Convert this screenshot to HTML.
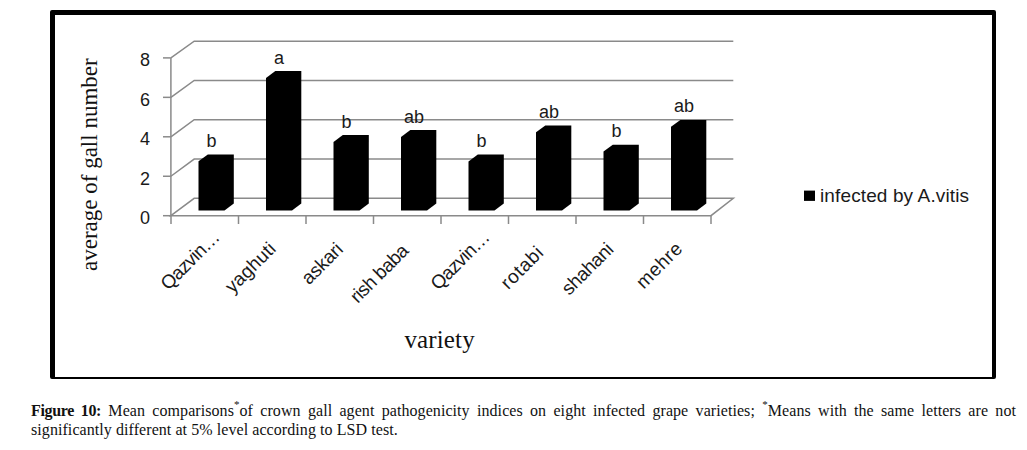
<!DOCTYPE html>
<html><head><meta charset="utf-8"><style>
html,body{margin:0;padding:0;background:#fff;}
body{width:1027px;height:450px;position:relative;overflow:hidden;}
.box{position:absolute;left:50px;top:10px;width:937px;height:362px;border-style:solid;border-color:#000;border-width:5px 4px 2px 5px;border-radius:2px;}
svg{position:absolute;left:0;top:0;}
.lb{font-family:"Liberation Sans",sans-serif;font-size:18px;fill:#1a1a1a;}
.ser{font-family:"Liberation Serif",serif;fill:#111;}
.cap{position:absolute;left:31px;top:400.8px;width:985px;font-family:"Liberation Serif",serif;font-size:16px;line-height:19px;color:#111;text-align:justify;letter-spacing:0.07px;}
.cap b{font-weight:bold;letter-spacing:-0.35px;}
.cap sup{font-size:11px;line-height:0;vertical-align:8px;}
</style></head><body>
<div class="box"></div>
<svg width="1027" height="450" viewBox="0 0 1027 450">
<polyline points="170.9,176.25 194.2,159.03 733.3,159.03" fill="none" stroke="#8a8a8a" stroke-width="1.5"/>
<line x1="163" y1="176.25" x2="170.9" y2="176.25" stroke="#8a8a8a" stroke-width="1.5"/>
<polyline points="170.9,136.80 194.2,119.75 733.3,119.75" fill="none" stroke="#8a8a8a" stroke-width="1.5"/>
<line x1="163" y1="136.80" x2="170.9" y2="136.80" stroke="#8a8a8a" stroke-width="1.5"/>
<polyline points="170.9,97.35 194.2,80.47 733.3,80.47" fill="none" stroke="#8a8a8a" stroke-width="1.5"/>
<line x1="163" y1="97.35" x2="170.9" y2="97.35" stroke="#8a8a8a" stroke-width="1.5"/>
<polyline points="170.9,57.90 194.2,41.20 733.3,41.20" fill="none" stroke="#8a8a8a" stroke-width="1.5"/>
<line x1="163" y1="57.90" x2="170.9" y2="57.90" stroke="#8a8a8a" stroke-width="1.5"/>
<polygon points="170.9,215.7 194.2,198.3 733.3,198.3 711.0,215.7" fill="none" stroke="#8a8a8a" stroke-width="1.5"/>
<line x1="163" y1="215.7" x2="170.9" y2="215.7" stroke="#8a8a8a" stroke-width="1.5"/>
<line x1="170.9" y1="57.90" x2="170.9" y2="215.7" stroke="#8a8a8a" stroke-width="1.5"/>
<line x1="171.0" y1="215.7" x2="171.0" y2="224" stroke="#8a8a8a" stroke-width="1.5"/>
<line x1="238.5" y1="215.7" x2="238.5" y2="224" stroke="#8a8a8a" stroke-width="1.5"/>
<line x1="306.0" y1="215.7" x2="306.0" y2="224" stroke="#8a8a8a" stroke-width="1.5"/>
<line x1="373.5" y1="215.7" x2="373.5" y2="224" stroke="#8a8a8a" stroke-width="1.5"/>
<line x1="441.0" y1="215.7" x2="441.0" y2="224" stroke="#8a8a8a" stroke-width="1.5"/>
<line x1="508.5" y1="215.7" x2="508.5" y2="224" stroke="#8a8a8a" stroke-width="1.5"/>
<line x1="576.0" y1="215.7" x2="576.0" y2="224" stroke="#8a8a8a" stroke-width="1.5"/>
<line x1="643.5" y1="215.7" x2="643.5" y2="224" stroke="#8a8a8a" stroke-width="1.5"/>
<line x1="711.0" y1="215.7" x2="711.0" y2="224" stroke="#8a8a8a" stroke-width="1.5"/>
<polygon points="198.5,161.20000000000002 207.8,154.4 233.8,154.4 233.8,203.6 224.5,210.4 198.5,210.4" fill="#000"/>
<text x="211.50" y="146.90" text-anchor="middle" class="lb">b</text>
<polygon points="266.0,77.89999999999999 275.3,71.1 301.3,71.1 301.3,203.6 292.0,210.4 266.0,210.4" fill="#000"/>
<text x="279.00" y="63.60" text-anchor="middle" class="lb">a</text>
<polygon points="333.5,141.9 342.8,135.1 368.8,135.1 368.8,203.6 359.5,210.4 333.5,210.4" fill="#000"/>
<text x="346.50" y="127.60" text-anchor="middle" class="lb">b</text>
<polygon points="401.0,136.9 410.3,130.1 436.3,130.1 436.3,203.6 427.0,210.4 401.0,210.4" fill="#000"/>
<text x="414.00" y="122.60" text-anchor="middle" class="lb">ab</text>
<polygon points="468.5,161.4 477.8,154.6 503.8,154.6 503.8,203.6 494.5,210.4 468.5,210.4" fill="#000"/>
<text x="481.50" y="147.10" text-anchor="middle" class="lb">b</text>
<polygon points="536.0,132.20000000000002 545.3,125.4 571.3,125.4 571.3,203.6 562.0,210.4 536.0,210.4" fill="#000"/>
<text x="549.00" y="117.90" text-anchor="middle" class="lb">ab</text>
<polygon points="603.5,151.5 612.8,144.7 638.8,144.7 638.8,203.6 629.5,210.4 603.5,210.4" fill="#000"/>
<text x="616.50" y="137.20" text-anchor="middle" class="lb">b</text>
<polygon points="671.0,126.7 680.3,119.9 706.3,119.9 706.3,203.6 697.0,210.4 671.0,210.4" fill="#000"/>
<text x="684.00" y="112.40" text-anchor="middle" class="lb">ab</text>
<text x="150" y="224.00" text-anchor="end" class="lb">0</text>
<text x="150" y="184.55" text-anchor="end" class="lb">2</text>
<text x="150" y="145.10" text-anchor="end" class="lb">4</text>
<text x="150" y="105.65" text-anchor="end" class="lb">6</text>
<text x="150" y="66.20" text-anchor="end" class="lb">8</text>
<text x="220.90" y="238.3" text-anchor="end" textLength="74.6" class="lb" style="font-size:19px" transform="rotate(-45 220.90 238.3)">Qazvin…</text>
<text x="276.90" y="250" text-anchor="end" textLength="62.4" class="lb" style="font-size:19px" transform="rotate(-45 276.90 250)">yaghuti</text>
<text x="344.20" y="250.4" text-anchor="end" textLength="49.7" class="lb" style="font-size:19px" transform="rotate(-45 344.20 250.4)">askari</text>
<text x="409.80" y="251.8" text-anchor="end" textLength="73.7" class="lb" style="font-size:19px" transform="rotate(-45 409.80 251.8)">rish baba</text>
<text x="490.90" y="238.3" text-anchor="end" textLength="74.6" class="lb" style="font-size:19px" transform="rotate(-45 490.90 238.3)">Qazvin…</text>
<text x="544.40" y="254" text-anchor="end" textLength="51.2" class="lb" style="font-size:19px" transform="rotate(-45 544.40 254)">rotabi</text>
<text x="614.70" y="250.5" text-anchor="end" textLength="64.2" class="lb" style="font-size:19px" transform="rotate(-45 614.70 250.5)">shahani</text>
<text x="683.40" y="250" text-anchor="end" textLength="56.1" class="lb" style="font-size:19px" transform="rotate(-45 683.40 250)">mehre</text>
<text x="97" y="271" class="ser" style="font-size:23px" transform="rotate(-90 97 271)">average of gall number</text>
<text x="404.4" y="347.7" textLength="70.3" class="ser" style="font-size:25px">variety</text>
<rect x="804" y="190.6" width="11" height="10.3" fill="#000"/>
<text x="820" y="201.7" class="lb" textLength="149" style="font-size:19px">infected by A.vitis</text>
</svg>
<div class="cap"><b>Figure 10:</b> Mean comparisons<sup>*</sup>of crown gall agent pathogenicity indices on eight infected grape varieties; <sup>*</sup>Means with the same letters are not significantly different at 5% level according to LSD test.</div>
</body></html>
